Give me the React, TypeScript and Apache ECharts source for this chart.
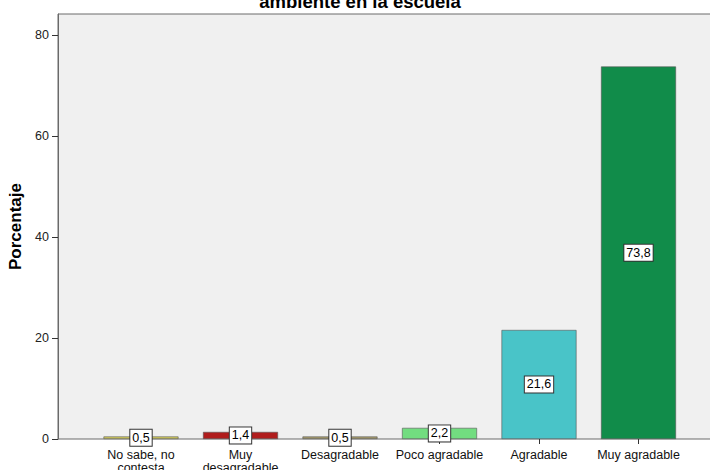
import React, { useEffect, useRef } from "react";
import * as echarts from "echarts";

const categories = [
  "No sabe, no\ncontesta",
  "Muy\ndesagradable",
  "Desagradable",
  "Poco agradable",
  "Agradable",
  "Muy agradable",
];
const values = [0.5, 1.4, 0.5, 2.2, 21.6, 73.8];
const barColors = ["#d2cb5c", "#b01c1c", "#a59b6b", "#72dd80", "#49c4c8", "#118c4a"];
const yTicks = [0, 20, 40, 60, 80];
const titleText = "ambiente en la escuela";
const yName = "Porcentaje";

const FONT = "'Liberation Sans', Arial, sans-serif";

export default function App() {
  const ref = useRef<HTMLDivElement>(null);
  useEffect(() => {
    if (!ref.current) return;
    const chart = echarts.init(ref.current, null, { renderer: "svg" });
    const yMax = 84.2;
    chart.setOption({
      animation: false,
      backgroundColor: "#ffffff",
      textStyle: { fontFamily: FONT },
      graphic: [
        {
          type: "text",
          x: 360,
          y: 11,
          style: {
            text: titleText,
            fontFamily: FONT,
            fontSize: 18.5,
            fontWeight: "bold",
            fill: "#000",
            textAlign: "center",
            textVerticalAlign: "bottom",
          },
        },
      ],
      grid: [
        {
          left: 58,
          top: 14,
          width: 664,
          bottom: 31,
          show: true,
          backgroundColor: "#f0f0f0",
          borderColor: "#6a6a6a",
          borderWidth: 1,
          containLabel: false,
          outerBoundsMode: "none",
        },
        {
          left: 91.25,
          top: 14,
          width: 597,
          bottom: 31,
          containLabel: false,
          outerBoundsMode: "none",
        },
      ],
      xAxis: [
        {
          type: "value",
          gridIndex: 0,
          show: false,
          min: 0,
          max: 1,
        },
        {
          type: "category",
          gridIndex: 1,
          data: categories,
          boundaryGap: true,
          axisLine: { show: false },
          axisTick: {
            show: true,
            alignWithLabel: true,
            length: 5,
            lineStyle: { color: "#333" },
          },
          axisLabel: {
            interval: 0,
            fontSize: 12.5,
            lineHeight: 13,
            color: "#111",
            margin: 9,
            fontFamily: FONT,
          },
        },
      ],
      yAxis: [
        {
          type: "value",
          gridIndex: 0,
          min: 0,
          max: yMax,
          splitLine: { show: false },
          axisLine: { show: true, lineStyle: { color: "#6a6a6a" } },
          axisTick: {
            show: true,
            length: 6,
            customValues: yTicks,
            lineStyle: { color: "#333" },
          },
          axisLabel: {
            customValues: yTicks,
            fontSize: 12.5,
            color: "#222",
            margin: 9,
            fontFamily: FONT,
          },
          name: yName,
          nameLocation: "middle",
          nameGap: 24,
          nameRotate: 90,
          nameTextStyle: {
            fontSize: 17,
            fontWeight: "bold",
            color: "#000",
            fontFamily: FONT,
          },
        },
        {
          type: "value",
          gridIndex: 1,
          min: 0,
          max: yMax,
          show: false,
          splitLine: { show: false },
        },
      ],
      series: [
        {
          type: "bar",
          xAxisIndex: 1,
          yAxisIndex: 1,
          barWidth: 75,
          data: values.map((v, i) => ({
            value: v,
            itemStyle: { color: barColors[i] },
          })),
          itemStyle: { borderColor: "#555", borderWidth: 0.6 },
          label: {
            show: true,
            position: "inside",
            formatter: (p: any) => String(p.value).replace(".", ","),
            fontSize: 12.5,
            color: "#000",
            backgroundColor: "#ffffff",
            borderColor: "#333",
            borderWidth: 1,
            padding: [2, 2, 1, 2],
            fontFamily: FONT,
          },
        },
      ],
    });
    return () => chart.dispose();
  }, []);
  return <div ref={ref} style={{ width: 710, height: 470, position: "absolute", left: 0, top: 0 }} />;
}
